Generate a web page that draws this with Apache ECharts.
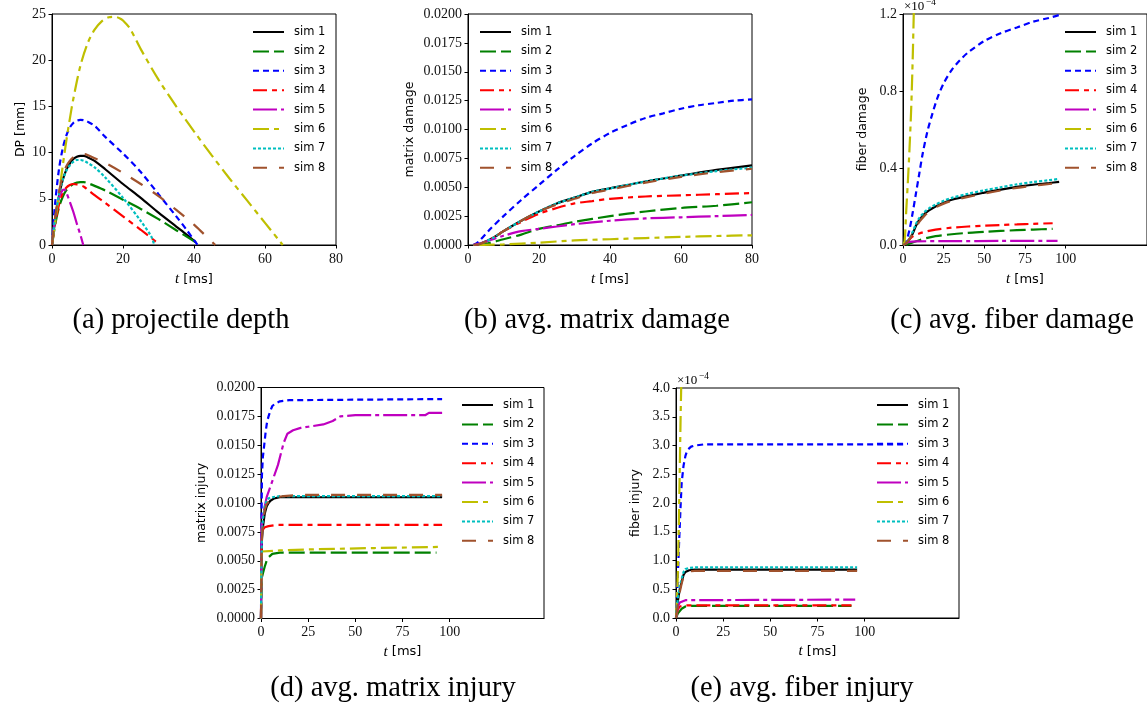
<!DOCTYPE html>
<html>
<head>
<meta charset="utf-8">
<script src="https://cdn.jsdelivr.net/npm/echarts@6/dist/echarts.min.js"></script>
<style>
  html, body { margin: 0; padding: 0; background: #fff; }
  #chart { width: 1147px; height: 712px; }
</style>
</head>
<body>
<div id="chart"></div>
<script>
// ---------- series names ----------
const simNames = ['sim 1', 'sim 2', 'sim 3', 'sim 4', 'sim 5', 'sim 6', 'sim 7', 'sim 8'];

// ---------- (a) projectile depth DP [mm] vs t [ms] ----------
const dpSim1 = [[0,0],[1,3],[2,5.4],[3,7],[4,8.1],[5,8.8],[6,9.3],[7,9.55],[8,9.65],[9,9.65],[10,9.5],[12,9.1],[15,8.2],[20,6.6],[25,5.1],[30,3.5],[35,2.0],[38,1.1],[40.5,0.3]];
const dpSim2 = [[0,0],[1,2.4],[2,4.1],[3,5.2],[4,5.9],[5,6.3],[6,6.6],[7,6.75],[8,6.8],[9,6.8],[10,6.7],[12,6.4],[15,5.9],[20,4.9],[25,3.9],[30,2.8],[35,1.6],[40.5,0.3]];
const dpSim3 = [[0,0],[0.5,2.8],[1,5],[2,8.3],[3,10.4],[4,11.8],[5,12.7],[6,13.2],[7,13.45],[8,13.55],[9,13.5],[10,13.35],[12,12.9],[15,11.7],[20,9.9],[25,7.9],[30,5.5],[35,3.1],[38,1.6],[41,0]];
const dpSim4 = [[0,0],[1,2.6],[2,4.4],[3,5.6],[4,6.2],[5,6.5],[6,6.6],[7,6.55],[8,6.45],[9,6.3],[10,6.0],[12,5.4],[15,4.55],[20,3.1],[25,1.65],[29.5,0.3]];
const dpSim5 = [[0,0],[0.5,1.8],[1,3.2],[2,5.2],[3,5.95],[3.5,6],[4,5.7],[5,4.7],[6,3.6],[7,2.3],[8,1.1],[8.8,0]];
const dpSim6 = [[0,0],[1,2.8],[2,5.6],[3,8.5],[4,11.2],[5,13.6],[6,15.8],[8,19.4],[10,21.8],[12,23.3],[14,24.2],[16,24.65],[17.5,24.7],[19,24.55],[20,24.3],[22,23.4],[25,21.2],[30,17.9],[35,15.0],[40,12.3],[45,9.7],[50,7.2],[55,4.8],[60,2.4],[65,0]];
const dpSim7 = [[0,0],[0.5,1.8],[1,3.2],[2,5.5],[3,7],[4,8],[5,8.6],[6,9],[7,9.2],[8,9.2],[9,9.1],[10,8.9],[12,8.4],[15,7.3],[20,5.1],[25,2.6],[28,0.9],[28.8,0]];
const dpSim8 = [[0,0],[0.5,1.9],[1,3.3],[2,5.8],[3,7.4],[4,8.5],[5,9.1],[6,9.5],[7,9.75],[8,9.85],[9,9.85],[10,9.75],[12,9.4],[15,8.9],[20,7.8],[25,6.6],[30,5.3],[35,3.8],[40,2.2],[43,1.1],[46,0]];

// ---------- (b) average matrix damage ----------
const mdSim1 = [[1.5,0],[3,0.00005],[5,0.0003],[7.5,0.0007],[10,0.0012],[15,0.0021],[20,0.0029],[25,0.0036],[30,0.0041],[35,0.0046],[40,0.0049],[50,0.0055],[60,0.0060],[70,0.0065],[80,0.0069]];
const mdSim2 = [[2,0],[5,0.0001],[10,0.0005],[15,0.0009],[20,0.0014],[25,0.0017],[30,0.002],[40,0.0025],[50,0.0029],[60,0.0032],[70,0.0034],[80,0.0037]];
const mdSim3 = [[1.5,0],[3,0.0003],[6,0.0013],[10,0.0025],[15,0.0039],[20,0.0052],[25,0.0065],[30,0.0077],[35,0.0088],[40,0.0097],[45,0.0104],[50,0.0110],[55,0.0114],[60,0.0118],[65,0.0121],[70,0.0123],[75,0.0125],[80,0.0126]];
const mdSim4 = [[1.5,0],[3,0.00005],[5,0.0003],[7.5,0.0007],[10,0.0012],[15,0.002],[20,0.0027],[25,0.0032],[30,0.0036],[35,0.0038],[40,0.004],[50,0.0042],[60,0.0043],[70,0.0044],[80,0.0045]];
const mdSim5 = [[1.5,0],[3,0.0001],[5,0.0003],[10,0.0008],[15,0.0012],[20,0.0014],[25,0.0016],[30,0.0018],[40,0.0021],[50,0.0023],[60,0.0024],[70,0.0025],[80,0.0026]];
const mdSim6 = [[3,0],[10,0.00005],[20,0.0002],[30,0.0004],[40,0.0005],[50,0.0006],[60,0.0007],[70,0.00078],[80,0.00084]];
const mdSim7 = [[1.5,0],[3,0.00005],[5,0.0003],[7.5,0.0007],[10,0.0012],[15,0.0021],[20,0.0029],[25,0.0036],[30,0.0041],[35,0.0046],[40,0.0049],[50,0.0055],[60,0.0060],[70,0.0064],[80,0.0067]];
const mdSim8 = [[1.5,0],[3,0.00005],[5,0.0003],[7.5,0.0007],[10,0.0012],[15,0.0021],[20,0.0029],[25,0.0035],[30,0.0040],[35,0.0045],[40,0.0048],[50,0.0054],[60,0.0059],[70,0.0063],[80,0.0066]];

// ---------- (c) average fiber damage (x1e-4) ----------
const fdSim1 = [[0,0],[2,0.01],[4,0.03],[6,0.06],[8,0.1],[10,0.13],[13,0.16],[16,0.18],[20,0.2],[25,0.22],[30,0.235],[40,0.255],[50,0.272],[60,0.288],[70,0.302],[80,0.313],[90,0.322],[96,0.328]];
const fdSim2 = [[2,0],[5,0.01],[10,0.025],[15,0.037],[20,0.046],[30,0.056],[40,0.063],[50,0.068],[60,0.073],[70,0.077],[80,0.08],[92,0.084]];
const fdSim3 = [[0,0],[2,0.02],[4,0.08],[6,0.17],[8,0.27],[10,0.37],[12,0.47],[15,0.59],[18,0.68],[21,0.76],[25,0.84],[30,0.91],[35,0.96],[40,1.0],[50,1.06],[60,1.1],[70,1.13],[80,1.16],[90,1.18],[96,1.195]];
const fdSim4 = [[0,0],[2,0.01],[4,0.03],[6,0.045],[10,0.06],[15,0.072],[20,0.08],[30,0.09],[40,0.096],[50,0.1],[60,0.104],[70,0.107],[80,0.11],[92,0.113]];
const fdSim5 = [[0,0],[2,0.01],[4,0.016],[8,0.019],[30,0.02],[60,0.021],[95,0.021]];
const fdSim6 = [[0,0],[1,0.02],[2,0.18],[3,0.33],[4,0.5],[5,0.7],[6,0.98],[7,1.35]];
const fdSim7 = [[0,0],[2,0.01],[4,0.035],[6,0.07],[8,0.11],[10,0.14],[13,0.17],[16,0.19],[20,0.21],[25,0.23],[30,0.245],[40,0.266],[50,0.284],[60,0.3],[70,0.315],[80,0.327],[90,0.337],[96,0.343]];
const fdSim8 = [[0,0],[2,0.01],[4,0.03],[6,0.06],[8,0.09],[10,0.12],[13,0.15],[16,0.173],[20,0.195],[25,0.215],[30,0.23],[40,0.25],[50,0.267],[60,0.283],[70,0.297],[80,0.308],[90,0.317],[96,0.322]];

// ---------- (d) average matrix injury ----------
const miSim1 = [[0,0],[0.2,0.004],[0.5,0.0068],[1,0.0079],[2,0.0091],[3,0.0097],[4,0.01],[5,0.0102],[7,0.0104],[10,0.0105],[20,0.0105],[96,0.0105]];
const miSim2 = [[0,0],[0.3,0.0034],[1,0.0039],[2,0.0045],[3,0.005],[4,0.0053],[6,0.0056],[10,0.0057],[93,0.0057]];
const miSim3 = [[0,0],[0.2,0.007],[0.5,0.0124],[1,0.014],[1.7,0.015],[2.5,0.0162],[3.2,0.017],[4,0.0175],[5,0.018],[6,0.0184],[7.5,0.0186],[10,0.0188],[15,0.0189],[96,0.019]];
const miSim4 = [[0,0],[0.2,0.005],[0.5,0.0072],[1,0.0077],[2,0.0079],[4,0.008],[8,0.0081],[96,0.0081]];
const miSim5 = [[0,0],[0.3,0.0075],[0.7,0.0088],[1.5,0.0093],[3,0.0105],[6,0.0119],[9,0.0133],[12,0.0152],[14,0.016],[17,0.0163],[21,0.0165],[25,0.0166],[33,0.0168],[38,0.0171],[42,0.0175],[50,0.0176],[70,0.0176],[87,0.0176],[89,0.0178],[96,0.0178]];
const miSim6 = [[0,0],[0.2,0.005],[0.5,0.0058],[1,0.0059],[10,0.0059],[30,0.006],[60,0.0061],[96,0.0062]];
const miSim7 = [[0,0],[0.2,0.004],[0.5,0.0072],[1,0.0086],[2,0.0097],[3,0.0102],[4,0.0104],[6,0.0105],[10,0.0106],[96,0.0106]];
const miSim8 = [[0,0],[0.2,0.004],[0.5,0.007],[1,0.0082],[2,0.0094],[3,0.0099],[5,0.0103],[8,0.0105],[12,0.0106],[20,0.0107],[96,0.0107]];

// ---------- (e) average fiber injury (x1e-4) ----------
const fiSim1 = [[0,0],[1,0.3],[2,0.5],[3,0.63],[4,0.75],[5,0.8],[7,0.83],[10,0.84],[96,0.84]];
const fiSim2 = [[0,0],[1,0.08],[2,0.12],[3,0.16],[4,0.19],[5,0.2],[8,0.21],[93,0.21]];
const fiSim3 = [[0,0],[0.5,0.3],[1,0.75],[1.5,1.2],[2,1.6],[2.5,2.0],[3,2.35],[4,2.65],[5,2.82],[6,2.92],[8,2.98],[10,3.0],[15,3.02],[121,3.02]];
const fiSim4 = [[0,0],[1,0.15],[2,0.2],[3,0.21],[5,0.22],[93,0.22]];
const fiSim5 = [[0,0],[1,0.2],[2,0.27],[3,0.3],[5,0.31],[95,0.32]];
const fiSim6 = [[0,0],[0.5,0.3],[1,0.8],[1.5,1.6],[2,2.6],[2.5,3.6],[3,4.4]];
const fiSim7 = [[0,0],[1,0.35],[2,0.55],[3,0.68],[4,0.8],[5,0.85],[7,0.87],[10,0.88],[96,0.88]];
const fiSim8 = [[0,0],[1,0.25],[2,0.45],[3,0.6],[4,0.72],[5,0.78],[7,0.81],[10,0.82],[96,0.82]];

// ---------- tick values ----------
const ticksX80 = [0, 20, 40, 60, 80];
const ticksX100 = [0, 25, 50, 75, 100];

// ---------- line styles per simulation ----------
const simColors = ['#000000', '#008000', '#0000ff', '#ff0000', '#bf00bf', '#bfbf00', '#00bfbf', '#a0522d'];
const simDashes = ['solid', [16, 5], [6, 4], [14, 5, 5, 5], [24, 4, 4, 4], [16, 5, 5, 5], [3, 2], [14, 12]];

const panelData = [
  [dpSim1, dpSim2, dpSim3, dpSim4, dpSim5, dpSim6, dpSim7, dpSim8],
  [mdSim1, mdSim2, mdSim3, mdSim4, mdSim5, mdSim6, mdSim7, mdSim8],
  [fdSim1, fdSim2, fdSim3, fdSim4, fdSim5, fdSim6, fdSim7, fdSim8],
  [miSim1, miSim2, miSim3, miSim4, miSim5, miSim6, miSim7, miSim8],
  [fiSim1, fiSim2, fiSim3, fiSim4, fiSim5, fiSim6, fiSim7, fiSim8]
];
const panelSmooth = [0.3, 0.3, 0.3, 0, 0];

const grids = [
  { left: 52,  top: 14,    width: 284, height: 231 },
  { left: 468, top: 14,    width: 284, height: 231 },
  { left: 903, top: 14,    width: 244, height: 231 },
  { left: 261, top: 387.5, width: 283, height: 231 },
  { left: 676, top: 388,   width: 283, height: 230 }
];

const serif = '"Liberation Serif", "Times New Roman", serif';
const sans = '"DejaVu Sans", sans-serif';

const tickLabel = { color: '#111', fontFamily: serif, fontSize: 14 };
const axisLineStyle = { lineStyle: { color: '#000', width: 1 } };
const tickStyle = { show: true, length: 3.5, lineStyle: { color: '#000', width: 1 } };

const xName = '{i|t} [ms]';
const xNameStyle = {
  color: '#000', fontFamily: sans, fontSize: 13,
  rich: { i: { fontFamily: serif, fontStyle: 'italic', fontSize: 15, color: '#000' } }
};

function xAxis(idx, max, interval, custom, gap) {
  const ax = {
    type: 'value', gridIndex: idx, min: 0, max: max, interval: interval,
    name: xName, nameLocation: 'middle', nameGap: gap, nameTextStyle: xNameStyle,
    axisLine: axisLineStyle, axisTick: Object.assign({}, tickStyle),
    axisLabel: Object.assign({ margin: 7 }, tickLabel),
    splitLine: { show: false }
  };
  if (custom) {
    ax.axisTick.customValues = custom;
    ax.axisLabel.customValues = custom;
  }
  return ax;
}
function yAxis(idx, max, interval, name, gap, digits) {
  return {
    type: 'value', gridIndex: idx, min: 0, max: max, interval: interval,
    name: name, nameLocation: 'middle', nameGap: gap, nameRotate: 90,
    nameTextStyle: { color: '#000', fontFamily: sans, fontSize: 12.5 },
    axisLine: axisLineStyle, axisTick: tickStyle,
    axisLabel: Object.assign({ margin: 6, formatter: v => v.toFixed(digits) }, tickLabel),
    splitLine: { show: false }
  };
}

const xAxes = [
  xAxis(0, 80, 20, ticksX80, 27),
  xAxis(1, 80, 20, ticksX80, 27),
  xAxis(2, 150, 25, ticksX100, 27),
  xAxis(3, 150, 25, ticksX100, 26),
  xAxis(4, 150, 25, ticksX100, 26)
];
const yAxes = [
  yAxis(0, 25, 5, 'DP [mm]', 25, 0),
  yAxis(1, 0.02, 0.0025, 'matrix damage', 52, 4),
  yAxis(2, 1.2, 0.4, 'fiber damage', 34, 1),
  yAxis(3, 0.02, 0.0025, 'matrix injury', 53, 4),
  yAxis(4, 4.0, 0.5, 'fiber injury', 34, 1)
];

const series = [];
panelData.forEach((sims, p) => {
  sims.forEach((data, s) => {
    series.push({
      type: 'line', name: simNames[s], xAxisIndex: p, yAxisIndex: p,
      data: data, showSymbol: false, symbol: 'none', smooth: panelSmooth[p],
      clip: true, animation: false, z: 2 + s,
      lineStyle: { color: simColors[s], width: 2.2, type: simDashes[s], cap: 'butt' },
      itemStyle: { color: simColors[s] },
      emphasis: { disabled: true }
    });
  });
});

const legendPos = [
  { left: 252, top: 25 },
  { left: 479, top: 25 },
  { left: 1064, top: 25 },
  { left: 461, top: 398 },
  { left: 876, top: 398 }
];
const legends = legendPos.map(pos => ({
  left: pos.left, top: pos.top, orient: 'vertical',
  data: simNames, itemWidth: 31, itemHeight: 14, itemGap: 5.4,
  selectedMode: false, padding: 0,
  // keep only the line sample in each legend entry
  itemStyle: { opacity: 0, borderWidth: 0 },
  textStyle: { color: '#000', fontFamily: sans, fontSize: 11.5, padding: [0, 0, 0, 5], lineHeight: 14 }
}));

function caption(text, x, y) {
  return { type: 'text', x: x, y: y, silent: true,
    style: { text: text, fill: '#000', font: '28.5px ' + serif, textAlign: 'center', textVerticalAlign: 'middle' } };
}
function offsetText(x, y) {
  return [
    { type: 'text', x: x, y: y, silent: true,
      style: { text: '×10', fill: '#000', font: '13px ' + serif, textAlign: 'left', textVerticalAlign: 'middle' } },
    { type: 'text', x: x + 22, y: y - 5, silent: true,
      style: { text: '−4', fill: '#000', font: '9.5px ' + serif, textAlign: 'left', textVerticalAlign: 'middle' } }
  ];
}

const chart = echarts.init(document.getElementById('chart'), null, { renderer: 'canvas' });
chart.setOption({
  backgroundColor: '#ffffff',
  animation: false,
  grid: grids.map(g => Object.assign({
    show: true, borderColor: '#000', borderWidth: 1, backgroundColor: 'transparent',
    containLabel: false, outerBoundsMode: 'none'
  }, g)),
  xAxis: xAxes,
  yAxis: yAxes,
  legend: legends,
  series: series,
  graphic: [
    caption('(a) projectile depth', 181, 321),
    caption('(b) avg. matrix damage', 597, 321),
    caption('(c) avg. fiber damage', 1012, 321),
    caption('(d) avg. matrix injury', 393, 689),
    caption('(e) avg. fiber injury', 802, 689)
  ].concat(offsetText(904, 7), offsetText(677, 381))
});
</script>
</body>
</html>
